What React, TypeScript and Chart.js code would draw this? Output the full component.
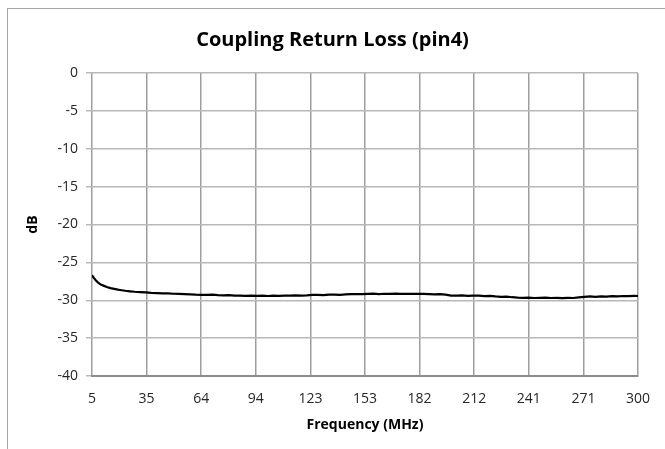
import React, { useEffect, useRef } from "react";
import { Chart, registerables } from "chart.js";

Chart.register(...registerables);

const chartTitle = "Coupling Return Loss (pin4)";
const xAxisTitle = "Frequency (MHz)";
const yAxisTitle = "dB";

const xTickLabels = ["5", "35", "64", "94", "123", "153", "182", "212", "241", "271", "300"];

const freqMHz = [
  5, 6, 7, 8, 9, 10, 11.5, 13, 15, 17, 19, 21, 23, 25.5, 28, 31, 34, 37, 40, 43,
  46, 49, 52, 55, 58, 61, 64, 67, 70, 73, 76, 79, 82, 85, 88, 91, 94, 97, 100, 103,
  106, 109, 112, 115, 118, 121, 124, 127, 130, 133, 136, 139, 142, 145, 148, 151, 154, 157, 160, 163,
  166, 169, 172, 175, 178, 181, 184, 187, 190, 193, 196, 199, 202, 205, 208, 211, 214, 217, 220, 223,
  226, 229, 232, 235, 238, 241, 244, 247, 250, 253, 256, 259, 262, 265, 268, 271, 274, 277, 280, 283,
  286, 289, 292, 295, 298, 300,
];

const returnLossDb = [
  -26.7, -27.05, -27.35, -27.6, -27.8, -27.95, -28.1, -28.25, -28.4, -28.5, -28.6, -28.68, -28.75, -28.82, -28.88, -28.93, -28.97, -29.02, -29.05, -29.1,
  -29.08, -29.14, -29.17, -29.2, -29.22, -29.26, -29.28, -29.3, -29.27, -29.33, -29.35, -29.32, -29.38, -29.4, -29.42, -29.38, -29.43, -29.4, -29.44, -29.4,
  -29.42, -29.38, -29.4, -29.36, -29.38, -29.35, -29.3, -29.28, -29.32, -29.27, -29.25, -29.28, -29.22, -29.2, -29.18, -29.2, -29.15, -29.12, -29.18, -29.14,
  -29.16, -29.13, -29.15, -29.15, -29.16, -29.15, -29.17, -29.2, -29.22, -29.2, -29.25, -29.38, -29.4, -29.35, -29.42, -29.38, -29.4, -29.45, -29.42, -29.5,
  -29.55, -29.52, -29.6, -29.66, -29.68, -29.65, -29.7, -29.68, -29.66, -29.7, -29.68, -29.72, -29.68, -29.7, -29.62, -29.55, -29.5, -29.55, -29.48, -29.52,
  -29.45, -29.48, -29.44, -29.46, -29.42, -29.44,
];

const FONT = "'Open Sans', 'Liberation Sans', sans-serif";

const frame = {
  id: "frame",
  beforeDraw(chart: any) {
    const ctx = chart.ctx;
    ctx.save();
    ctx.fillStyle = "#ffffff";
    ctx.fillRect(0, 0, chart.width, chart.height);
    ctx.strokeStyle = "#a6a6a6";
    ctx.lineWidth = 1;
    ctx.strokeRect(7.5, 8.5, chart.width + 20, chart.height + 20);
    ctx.restore();
  },
};

export default function App() {
  const ref = useRef<HTMLCanvasElement | null>(null);

  useEffect(() => {
    if (!ref.current) return;
    const xMin = 5;
    const xMax = 300;
    const chart = new Chart(ref.current, {
      type: "line",
      data: {
        datasets: [
          {
            data: freqMHz.map((f, i) => ({ x: f, y: returnLossDb[i] })),
            borderColor: "#000000",
            borderWidth: 2.2,
            pointRadius: 0,
            tension: 0,
            fill: false,
          },
        ],
      },
      options: {
        responsive: false,
        animation: false,
        layout: { padding: { left: 0, right: 0, top: 0, bottom: 0 } },
        plugins: {
          legend: { display: false },
          tooltip: { enabled: false },
          title: {
            display: true,
            text: chartTitle,
            color: "#000000",
            font: { family: FONT, size: 20, weight: "bold", lineHeight: 1.2 },
            padding: { top: 28, bottom: 21 },
          },
        },
        scales: {
          x: {
            type: "linear",
            min: xMin,
            max: xMax,
            afterFit(scale: any) {
              scale.height = 73;
            },
            afterBuildTicks(scale: any) {
              scale.ticks = xTickLabels.map((_, i) => ({
                value: xMin + (i * (xMax - xMin)) / (xTickLabels.length - 1),
              }));
            },
            ticks: {
              autoSkip: false,
              maxRotation: 0,
              padding: 15,
              color: "#262626",
              font: { family: FONT, size: 14 },
              callback: (_v: any, i: number) => xTickLabels[i],
            },
            grid: {
              color: "#9d9d9d",
              lineWidth: 1.5,
              drawTicks: false,
            },
            border: { color: "#8c8c8c", width: 2 },
            title: {
              display: true,
              text: xAxisTitle,
              color: "#000000",
              font: { family: FONT, size: 14, weight: "bold" },
              padding: { top: 0, bottom: 15.5 },
            },
          },
          y: {
            min: -40,
            max: 0,
            afterFit(scale: any) {
              scale.width = 92;
            },
            ticks: {
              stepSize: 5,
              padding: 8,
              color: "#262626",
              font: { family: FONT, size: 14 },
            },
            grid: {
              color: "#b8b8b8",
              lineWidth: 1.5,
              drawTicks: true,
              tickLength: 6,
            },
            border: { display: false },
            title: {
              display: true,
              text: yAxisTitle,
              color: "#000000",
              font: { family: FONT, size: 14, weight: "bold" },
              padding: { top: 25, bottom: 0 },
            },
          },
          yRight: {
            position: "right",
            min: -40,
            max: 0,
            afterFit(scale: any) {
              scale.width = 24;
            },
            ticks: { display: false },
            grid: { display: false },
            border: { display: false },
          },
        },
      },
      plugins: [frame],
    });
    return () => chart.destroy();
  }, []);

  return (
    <div style={{ position: "absolute", left: 0, top: 0, width: 665, height: 449 }}>
      <canvas ref={ref} width={665} height={449} />
    </div>
  );
}
